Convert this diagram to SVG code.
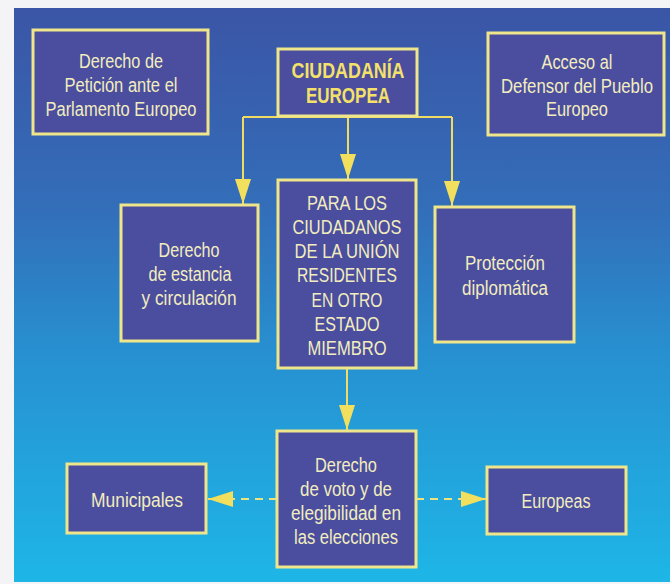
<svg xmlns="http://www.w3.org/2000/svg" width="670" height="584" viewBox="0 0 670 584">
<defs>
<linearGradient id="bg" x1="0" y1="0" x2="0" y2="1">
<stop offset="0" stop-color="#3b55a6"/>
<stop offset="0.35" stop-color="#336eb9"/>
<stop offset="0.6" stop-color="#2790d0"/>
<stop offset="1" stop-color="#1eb6e7"/>
</linearGradient>
<marker id="ah" viewBox="0 0 25 16" refX="25" refY="8" markerWidth="25" markerHeight="16" markerUnits="userSpaceOnUse" orient="auto">
<path d="M0,0 L25,8 L0,16 Z" fill="#f3df5e"/>
</marker>
<style>
.box{fill:#4b4d9e;stroke:#efe58a;stroke-width:3}
.t{font-family:"Liberation Sans",Arial,sans-serif;font-size:20px;fill:#f2edbe;text-anchor:middle}
.b{font-family:"Liberation Sans",Arial,sans-serif;font-size:22px;font-weight:bold;fill:#f3e16a;text-anchor:middle}
.c{fill:none;stroke:#f0dc62;stroke-width:2}
.d{fill:none;stroke:#ece27e;stroke-width:2;stroke-dasharray:8 6}
</style>
</defs>
<rect x="0" y="0" width="670" height="584" fill="#f4f4f6"/>
<rect x="14" y="8" width="656" height="574" fill="url(#bg)"/>
<g id="connectors">
<path class="c" d="M243,117 H452"/>
<path class="c" d="M243,117 V204" marker-end="url(#ah)"/>
<path class="c" d="M348,117 V179" marker-end="url(#ah)"/>
<path class="c" d="M452,117 V206" marker-end="url(#ah)"/>
<path class="c" d="M347,369 V430" marker-end="url(#ah)"/>
<path class="d" d="M277,499 H228"/>
<path class="c" d="M230,499 H208" marker-end="url(#ah)"/>
<path class="d" d="M416,499 H464"/>
<path class="c" d="M462,499 H486" marker-end="url(#ah)"/>
</g>
<g id="peticion">
<rect class="box" x="33" y="30" width="175" height="104"/>
<text class="t" x="121" y="68" textLength="84" lengthAdjust="spacingAndGlyphs">Derecho de</text>
<text class="t" x="121" y="92" textLength="113" lengthAdjust="spacingAndGlyphs">Petición ante el</text>
<text class="t" x="121" y="116" textLength="151" lengthAdjust="spacingAndGlyphs">Parlamento Europeo</text>
</g>
<g id="ciudadania">
<rect class="box" x="278" y="49" width="139" height="67"/>
<text class="b" x="348" y="78" textLength="113" lengthAdjust="spacingAndGlyphs">CIUDADANÍA</text>
<text class="b" x="348" y="103" textLength="84" lengthAdjust="spacingAndGlyphs">EUROPEA</text>
</g>
<g id="defensor">
<rect class="box" x="488" y="33" width="176" height="102"/>
<text class="t" x="577" y="69" textLength="71" lengthAdjust="spacingAndGlyphs">Acceso al</text>
<text class="t" x="577" y="93" textLength="152" lengthAdjust="spacingAndGlyphs">Defensor del Pueblo</text>
<text class="t" x="577" y="116" textLength="62" lengthAdjust="spacingAndGlyphs">Europeo</text>
</g>
<g id="estancia">
<rect class="box" x="121" y="205" width="137" height="136"/>
<text class="t" x="189" y="257" textLength="61" lengthAdjust="spacingAndGlyphs">Derecho</text>
<text class="t" x="190" y="281" textLength="83" lengthAdjust="spacingAndGlyphs">de estancia</text>
<text class="t" x="189" y="305" textLength="95" lengthAdjust="spacingAndGlyphs">y circulación</text>
</g>
<g id="ciudadanos">
<rect class="box" x="278" y="180" width="138" height="188"/>
<text class="t" x="347" y="210" textLength="80" lengthAdjust="spacingAndGlyphs">PARA LOS</text>
<text class="t" x="347" y="234" textLength="109" lengthAdjust="spacingAndGlyphs">CIUDADANOS</text>
<text class="t" x="347" y="258" textLength="105" lengthAdjust="spacingAndGlyphs">DE LA UNIÓN</text>
<text class="t" x="347" y="282" textLength="100" lengthAdjust="spacingAndGlyphs">RESIDENTES</text>
<text class="t" x="347" y="307" textLength="71" lengthAdjust="spacingAndGlyphs">EN OTRO</text>
<text class="t" x="347" y="331" textLength="65" lengthAdjust="spacingAndGlyphs">ESTADO</text>
<text class="t" x="347" y="355" textLength="79" lengthAdjust="spacingAndGlyphs">MIEMBRO</text>
</g>
<g id="proteccion">
<rect class="box" x="435" y="207" width="139" height="135"/>
<text class="t" x="505" y="270" textLength="80" lengthAdjust="spacingAndGlyphs">Protección</text>
<text class="t" x="505" y="295" textLength="86" lengthAdjust="spacingAndGlyphs">diplomática</text>
</g>
<g id="voto">
<rect class="box" x="277" y="431" width="139" height="136"/>
<text class="t" x="346" y="472" textLength="62" lengthAdjust="spacingAndGlyphs">Derecho</text>
<text class="t" x="346" y="496" textLength="92" lengthAdjust="spacingAndGlyphs">de voto y de</text>
<text class="t" x="346" y="520" textLength="110" lengthAdjust="spacingAndGlyphs">elegibilidad en</text>
<text class="t" x="346" y="544" textLength="104" lengthAdjust="spacingAndGlyphs">las elecciones</text>
</g>
<g id="municipales">
<rect class="box" x="67" y="464" width="139" height="69"/>
<text class="t" x="137" y="507" textLength="92" lengthAdjust="spacingAndGlyphs">Municipales</text>
</g>
<g id="europeas">
<rect class="box" x="487" y="467" width="139" height="67"/>
<text class="t" x="556" y="508" textLength="69" lengthAdjust="spacingAndGlyphs">Europeas</text>
</g>
</svg>
